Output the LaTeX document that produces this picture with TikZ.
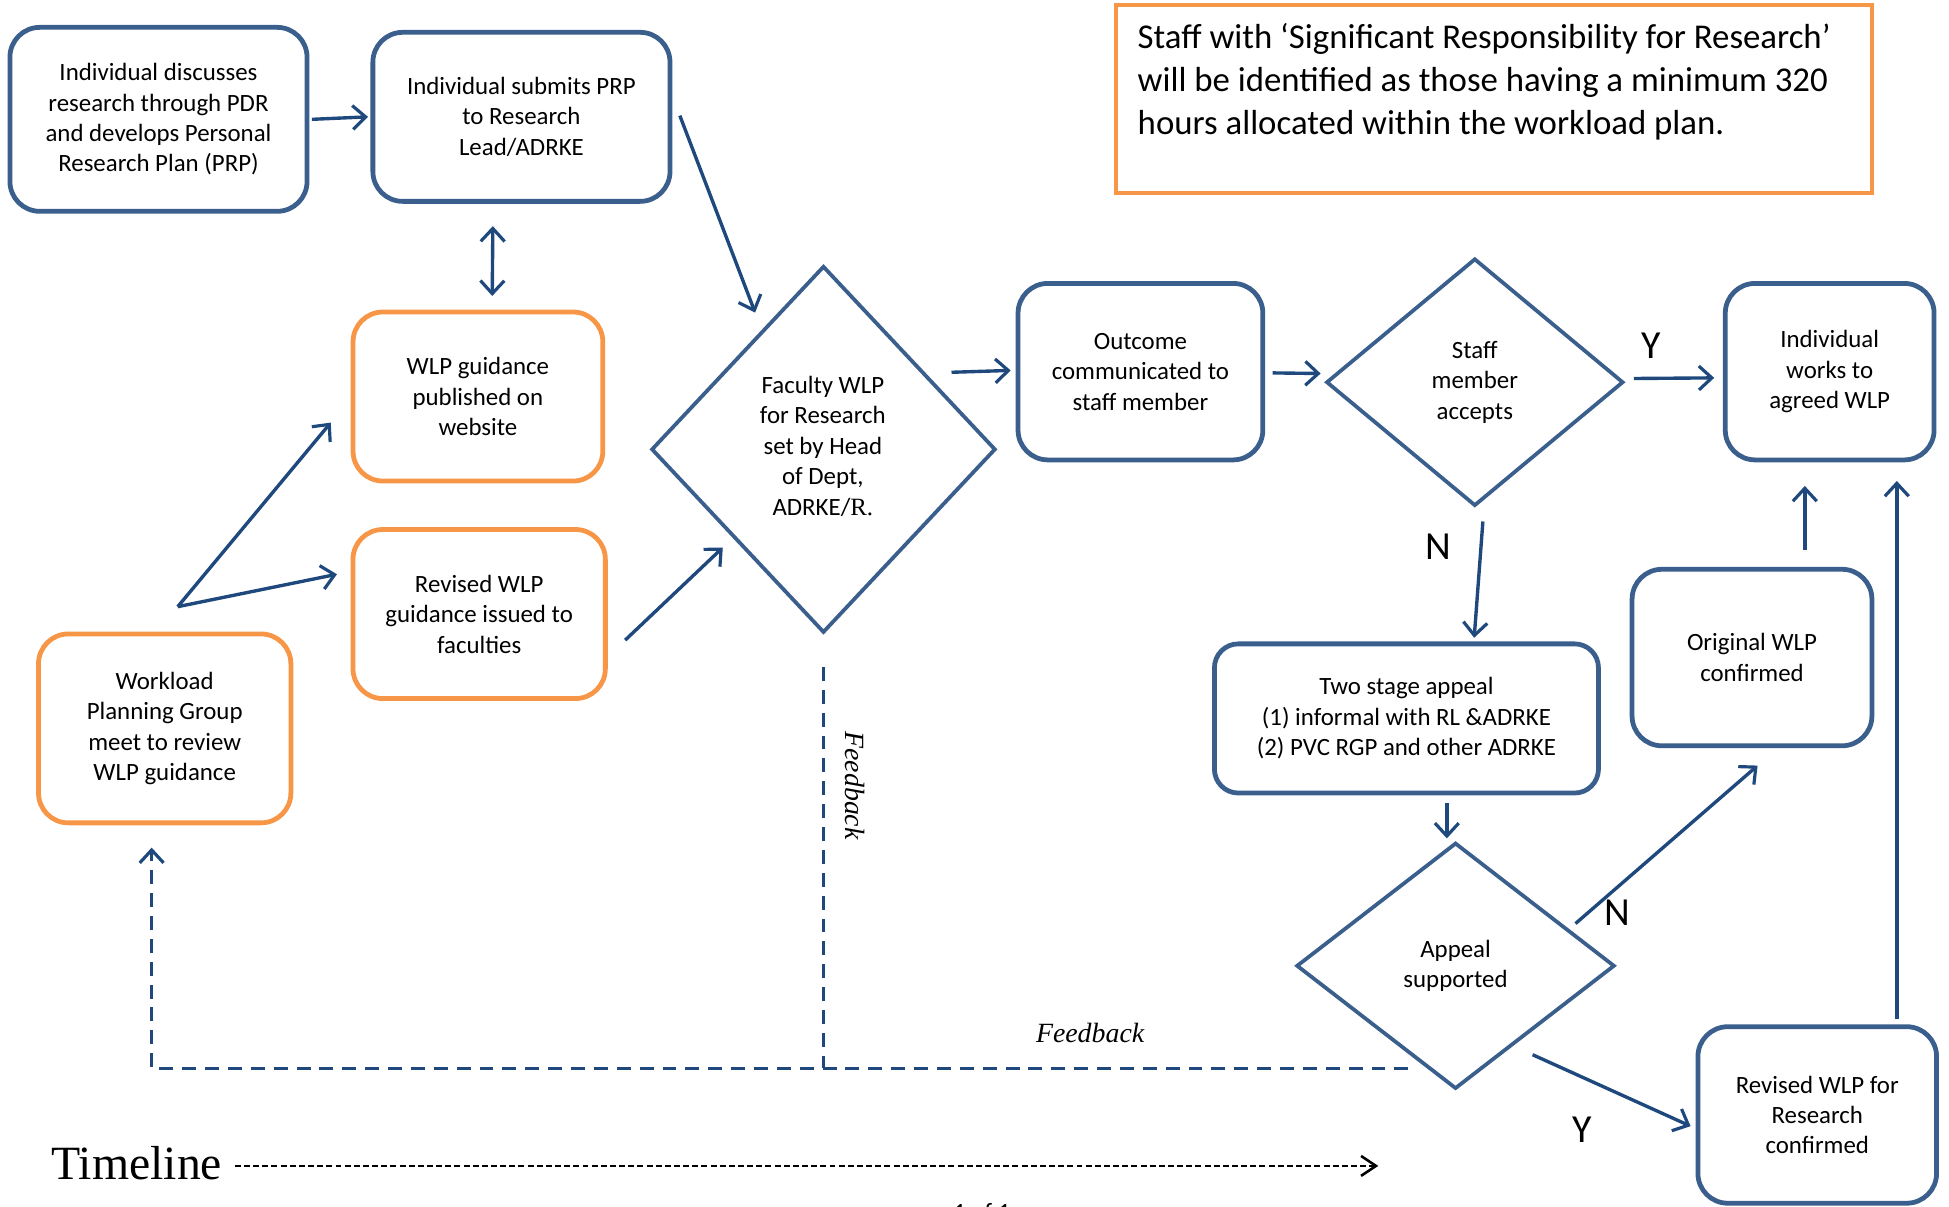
\documentclass[tikz,border=0pt]{standalone}
\usepackage{fontspec}
\setmainfont{Carlito}
\newfontfamily\serifit{Liberation Serif}
\usetikzlibrary{shapes.geometric,arrows.meta,calc}
\definecolor{boxblue}{HTML}{3A5F8D}
\definecolor{arrblue}{HTML}{1F497D}
\definecolor{boxorange}{HTML}{F79646}
\tikzset{
  txt/.style={font=\fontsize{12.5}{15.3}\selectfont, align=center, inner sep=0pt, text=black},
  bluebox/.style={draw=boxblue, line width=2.4pt, rounded corners=15pt, fill=white},
  orangebox/.style={draw=boxorange, line width=2.4pt, rounded corners=15pt, fill=white},
  diam/.style={diamond, draw=boxblue, line width=1.9pt, inner sep=0pt, aspect=1},
  conn/.style={draw=arrblue, line width=1.7pt, -{Straight Barb[length=6.5pt,width=12pt,line width=1.6pt]}},
  bconn/.style={draw=arrblue, line width=1.7pt, {Straight Barb[length=6.5pt,width=12pt,line width=1.6pt]}-{Straight Barb[length=6.5pt,width=12pt,line width=1.6pt]}},
  fb/.style={draw=arrblue, line width=1.7pt, dash pattern=on 7pt off 4.5pt},
  yn/.style={font=\fontsize{20}{22}\selectfont, inner sep=0pt, text=black},
  fbl/.style={font=\serifit\itshape\fontsize{14}{16}\selectfont, inner sep=0pt},
}
\begin{document}
\begin{tikzpicture}[x=0.625pt, y=-0.625pt]
\useasboundingbox (0,0) rectangle (1568,971);

% note box
\node[draw=boxorange, line width=2.2pt, minimum width=380pt, minimum height=94.4pt, inner sep=0pt] (note) at (1202,79.5) {};
\node[anchor=west, align=left, inner sep=0pt, font=\fontsize{17.5}{21.6}\selectfont] (notetxt) at (915,66)
  {Staff with ‘Significant Responsibility for Research’\\will be identified as those having a minimum 320\\hours allocated within the workload plan.};

% boxes
\node[bluebox, minimum width=149.4pt, minimum height=92.5pt] (A) at (127.5,96) {};
\node[txt] (At) at (A) {Individual discusses\\research through PDR\\and develops Personal\\Research Plan (PRP)};
\node[bluebox, minimum width=149.4pt, minimum height=85pt] (B) at (419.5,94) {};
\node[txt] (Bt) at (B) {Individual submits PRP\\to Research\\Lead/ADRKE};
\node[orangebox, minimum width=125.6pt, minimum height=85pt] (C) at (384.5,319) {};
\node[txt] (Ct) at (C) {WLP guidance\\published on\\website};
\node[orangebox, minimum width=126.9pt, minimum height=85pt] (D) at (385.5,494) {};
\node[txt] (Dt) at (D) {Revised WLP\\guidance issued to\\faculties};
\node[orangebox, minimum width=126.9pt, minimum height=95pt] (E) at (132.5,586) {};
\node[txt] (Et) at (E) {Workload\\Planning Group\\meet to review\\WLP guidance};
\node[bluebox, minimum width=123.1pt, minimum height=88.75pt] (G) at (917.5,299) {};
\node[txt] (Gt) at (G) {Outcome\\communicated to\\staff member};
\node[bluebox, minimum width=105pt, minimum height=88.75pt] (I) at (1472,299) {};
\node[txt] (It) at (I) {Individual\\works to\\agreed WLP};
\node[bluebox, minimum width=193.1pt, minimum height=75pt, rounded corners=12pt] (J) at (1131.5,578) {};
\node[txt] (Jt) at (J) {Two stage appeal\\(1) informal with RL \&ADRKE\\(2) PVC RGP and other ADRKE};
\node[bluebox, minimum width=120.6pt, minimum height=88.75pt] (L) at (1409.5,529) {};
\node[txt] (Lt) at (L) {Original WLP\\confirmed};
\node[bluebox, minimum width=120pt, minimum height=88.75pt] (M) at (1462,897) {};
\node[txt] (Mt) at (M) {Revised WLP for\\Research\\confirmed};

% diamonds
\node[diam, minimum width=173.1pt, minimum height=184.4pt] (F) at (662.5,361.5) {};
\node[txt] (Ft) at (662,359) {Faculty WLP\\for Research\\set by Head\\of Dept,\\ADRKE/{\serifit R.}};
\node[diam, minimum width=149.4pt, minimum height=124.4pt] (H) at (1186.5,307.5) {};
\node[txt] (Ht) at (H) {Staff\\member\\accepts};
\node[diam, minimum width=160pt, minimum height=123.75pt] (K) at (1171,777) {};
\node[txt] (Kt) at (K) {Appeal\\supported};

% connectors
\draw[conn] ($(A.east)+(2,0)$) -- ($(B.west)+(-2,0)$);
\draw[bconn] ($(B.south)+(-23,18)$) -- ($(C.north)+(11.5,-11)$);
\coordinate (Es) at ($(E.north)+(10.5,-20)$);
\draw[conn] (Es) -- ($(C.west)+(-16,21)$);
\draw[conn] (Es) -- ($(D.west)+(-11,-32)$);
\draw[conn] ($(B.east)+(6,-1)$) -- ($(F.north)+(-55,39)$);
\draw[conn] ($(D.east)+(14,21)$) -- ($(F.west)+(59,79)$);
\draw[conn] ($(F.east)+(-37,-62)$) -- ($(G.west)+(-4,-1)$);
\draw[conn] ($(G.east)+(6,1)$) -- ($(H.west)+(-3,-7)$);
\draw[conn] ($(H.east)+(7,-3)$) -- ($(I.west)+(-7,5)$);
\draw[conn] ($(H.south)+(6.5,11)$) -- ($(J.north)+(54.5,-3)$);
\draw[conn] ($(J.south)+(32.5,6)$) -- ($(K.north)+(-7,-2)$);
\draw[conn] ($(K.east)+(-33,-34)$) -- ($(L.south)+(4.5,14)$);
\draw[conn] ($(L.north)+(42.5,-14)$) -- ($(I.south)+(-20,19)$);
\draw[conn] ($(K.south)+(62,-29)$) -- ($(M.west)+(-4,9)$);
\draw[conn] ($(M.north)+(64,-4)$) -- ($(I.south)+(54,15)$);

% labels
\node[yn] (y1) at (1328,278) {Y};
\node[yn] (n1) at (1157,440) {N};
\node[yn] (n2) at (1301,734) {N};
\node[yn] (y2) at (1273,909) {Y};

% feedback
\coordinate (Ks) at ($(K.south)+(-38,-18)$);
\coordinate (Fs) at ($(F.south)+(0,26)$);
\coordinate (Ee) at ($(E.south)+(-10.5,18)$);
\draw[fb] (Fs) -- (Fs |- Ks);
\draw[fb, -{Straight Barb[length=6.5pt,width=12pt,line width=1.6pt]}] (Ks) -- (Ks -| Ee) -- (Ee);
\node[fbl, rotate=-90] (fb1) at (688,632) {Feedback};
\node[fbl] (fb2) at (877,831) {Feedback};

% timeline
\node[font=\serifit\fontsize{24}{26}\selectfont, inner sep=0pt] (TL) at (110,936) {Timeline};
\coordinate (TLend) at (1107,938);
\draw[black, line width=1.4pt, dash pattern=on 3pt off 1.6pt] ($(TL.east)+(10,2)$) -- (TLend);
\draw[black, line width=1.3pt] ($(TLend)+(-12,-8)$) -- (TLend) -- ($(TLend)+(-12,8)$);

\node[font=\fontsize{12.5}{15}\selectfont, inner sep=0pt] (page) at (790,975) {1 of 1};
\end{tikzpicture}
\end{document}
